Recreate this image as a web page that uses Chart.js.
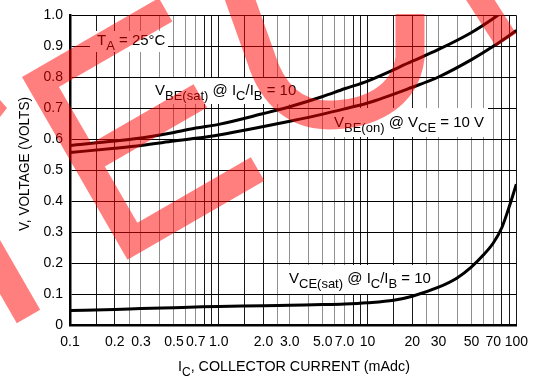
<!DOCTYPE html>
<html>
<head>
<meta charset="utf-8">
<title>Base-Emitter and Collector-Emitter Voltages vs Collector Current</title>
<script src="https://cdn.jsdelivr.net/npm/chart.js@4"></script>
<style>
  html, body { margin: 0; padding: 0; background: #fff; }
  #wrap { width: 537px; height: 378px; position: relative; }
</style>
</head>
<body>
<div id="wrap"><canvas id="c" width="537" height="378"></canvas></div>
<script>
// Collector current grid lines (mA) and the subset that carries labels
const currentGrid = [0.1, 0.15, 0.2, 0.25, 0.3, 0.4, 0.5, 0.6, 0.7, 0.8, 0.9,
                     1, 1.5, 2, 2.5, 3, 4, 5, 6, 7, 8, 9,
                     10, 15, 20, 25, 30, 40, 50, 60, 70, 80, 90, 100];
const currentTickValues = [0.1, 0.2, 0.3, 0.5, 0.7, 1, 2, 3, 5, 7, 10, 20, 30, 50, 70, 100];
const currentTickLabels = ['0.1', '0.2', '0.3', '0.5', '0.7', '1.0', '2.0', '3.0', '5.0', '7.0',
                           '10', '20', '30', '50', '70', '100'];

// Voltage axis ticks (volts)
const voltageTickValues = [0, 0.1, 0.2, 0.3, 0.4, 0.5, 0.6, 0.7, 0.8, 0.9, 1.0];
const voltageTickLabels = ['0', '0.1', '0.2', '0.3', '0.4', '0.5', '0.6', '0.7', '0.8', '0.9', '1.0'];

// Base-emitter curves, sampled at these collector currents (mA)
const icBase = [0.1, 0.2, 0.3, 0.5, 0.7, 1, 2, 3, 5, 7, 10, 20, 30, 50, 70, 100];
// VBE(sat) @ IC/IB = 10
const vbeSat = [0.580, 0.594, 0.604, 0.622, 0.636, 0.648, 0.683, 0.705, 0.738, 0.763,
                0.788, 0.852, 0.890, 0.945, 0.990, 1.045];
// VBE(on) @ VCE = 10 V
const vbeOn  = [0.557, 0.571, 0.580, 0.594, 0.603, 0.614, 0.641, 0.658, 0.681, 0.698,
                0.717, 0.768, 0.801, 0.857, 0.900, 0.951];

// VCE(sat) @ IC/IB = 10
const icSat  = [0.1, 0.2, 0.3, 0.5, 0.7, 1, 2, 3, 5, 7, 10, 15, 20, 30, 40, 50, 60, 70, 80, 90, 100];
const vceSat = [0.047, 0.050, 0.053, 0.056, 0.058, 0.060, 0.062, 0.064, 0.066, 0.068, 0.072,
                0.080, 0.093, 0.122, 0.152, 0.188, 0.226, 0.265, 0.315, 0.385, 0.455];

const FONT = '"Liberation Sans", Arial, Helvetica, sans-serif';

// Darker lines at 1, 1.5, 2, 8, 9 within each decade, lighter elsewhere
function gridShade(v) {
  if (v === undefined || v === null) return '#000';
  const m = v / Math.pow(10, Math.floor(Math.log10(v) + 1e-9));
  const dark = [1, 1.5, 2, 8, 9].some(d => Math.abs(m - d) < 1e-6);
  return dark ? '#1a1a1a' : '#8f8f8f';
}

// Draws text runs with subscripts, left to right, returns total width
function drawRich(ctx, x, y, parts, mainPx, subPx, drop) {
  let cx = x;
  parts.forEach(p => {
    ctx.font = (p[1] ? subPx : mainPx) + 'px ' + FONT;
    ctx.fillText(p[0], cx, p[1] ? y + drop : y);
    cx += ctx.measureText(p[0]).width;
  });
  return cx - x;
}

function richWidth(ctx, parts, mainPx, subPx) {
  let w = 0;
  parts.forEach(p => {
    ctx.font = (p[1] ? subPx : mainPx) + 'px ' + FONT;
    w += ctx.measureText(p[0]).width;
  });
  return w;
}

// Curve call-outs: white backing box, then text
const notes = [
  { box: [90, 31, 78, 21], x: 97, y: 45,
    parts: [['T', 0], ['A', 1], [' = 25\u00B0C', 0]] },
  { box: [150, 78, 151, 26], x: 155, y: 95,
    parts: [['V', 0], ['BE(sat)', 1], [' @ I', 0], ['C', 1], ['/I', 0], ['B', 1], [' = 10', 0]] },
  { box: [330, 108, 158, 29], x: 334, y: 127,
    parts: [['V', 0], ['BE(on)', 1], [' @ V', 0], ['CE', 1], [' = 10 V', 0]] },
  { box: [283, 265, 153, 29], x: 289, y: 283,
    parts: [['V', 0], ['CE(sat)', 1], [' @ I', 0], ['C', 1], ['/I', 0], ['B', 1], [' = 10', 0]] }
];

const overlay = {
  id: 'overlay',
  beforeDatasetsDraw(chart) {
    const ctx = chart.ctx;
    ctx.save();
    ctx.textBaseline = 'alphabetic';
    notes.forEach(n => {
      ctx.fillStyle = '#fff';
      ctx.fillRect(n.box[0], n.box[1], n.box[2], n.box[3]);
      ctx.fillStyle = '#000';
      drawRich(ctx, n.x, n.y, n.parts, 15, 13, 5);
    });
    ctx.restore();
  },
  afterDraw(chart) {
    const ctx = chart.ctx;
    ctx.save();
    ctx.fillStyle = '#000';
    ctx.textBaseline = 'alphabetic';

    // Horizontal axis title, slightly condensed
    const xParts = [['I', 0], ['C', 1], [', COLLECTOR CURRENT (mAdc)', 0]];
    const xw = richWidth(ctx, xParts, 15.5, 13);
    ctx.save();
    ctx.translate(178, 371);
    ctx.scale(232 / xw, 1);
    drawRich(ctx, 0, 0, xParts, 15.5, 13, 5);
    ctx.restore();

    // Vertical axis title
    ctx.save();
    ctx.translate(29, 164);
    ctx.rotate(-Math.PI / 2);
    ctx.font = '15.5px ' + FONT;
    const yt = 'V, VOLTAGE (VOLTS)';
    const yw = ctx.measureText(yt).width;
    ctx.scale(134 / yw, 1);
    ctx.textAlign = 'center';
    ctx.fillText(yt, 0, 0);
    ctx.restore();

    // Red translucent stamp lettering across the plot
    ctx.fillStyle = 'rgba(255,0,0,0.5)';
    ctx.strokeStyle = 'rgba(255,0,0,0.5)';
    ctx.lineCap = 'butt';
    ctx.lineJoin = 'miter';

    // letter "E", tilted 30 degrees
    const O = [22, 77], U = [0.866, -0.5], V = [0.5, 0.866], s = 27, H = 211;
    const P = (u, v) => [O[0] + u * U[0] + v * V[0], O[1] + u * U[1] + v * V[1]];
    const seg = (a, b) => { ctx.moveTo(a[0], a[1]); ctx.lineTo(b[0], b[1]); };
    ctx.beginPath();
    ctx.lineWidth = s;
    seg(P(s / 2, 0), P(s / 2, H));
    seg(P(0, s / 2), P(158, s / 2));
    seg(P(0, H / 2), P(145, H / 2));
    seg(P(0, H - s / 2), P(158, H - s / 2));
    ctx.stroke();

    // stroke at the left edge
    ctx.beginPath();
    ctx.lineWidth = 27;
    seg([28.5, 316.5], [-60, 163]);
    ctx.stroke();
    ctx.beginPath();
    ctx.moveTo(0, 100); ctx.lineTo(7, 108); ctx.lineTo(0, 117); ctx.closePath();
    ctx.fill();

    // rounded letter
    ctx.beginPath();
    ctx.lineWidth = 29;
    ctx.moveTo(236, -12);
    ctx.lineTo(261, 58);
    ctx.bezierCurveTo(273, 97, 298, 115, 328, 115);
    ctx.bezierCurveTo(368, 115, 405, 98, 410, 58);
    ctx.lineTo(410, 14);
    ctx.stroke();

    // stroke at the top right
    ctx.beginPath();
    ctx.lineWidth = 24;
    seg([474, -10], [506, 40]);
    ctx.stroke();

    ctx.restore();
  }
};

const pts = (xs, ys) => xs.map((x, i) => ({ x: x, y: ys[i] }));

new Chart(document.getElementById('c'), {
  type: 'line',
  data: {
    datasets: [
      { label: 'VBE(sat) @ IC/IB = 10', data: pts(icBase, vbeSat) },
      { label: 'VBE(on) @ VCE = 10 V', data: pts(icBase, vbeOn) },
      { label: 'VCE(sat) @ IC/IB = 10', data: pts(icSat, vceSat) }
    ]
  },
  options: {
    responsive: false,
    animation: false,
    devicePixelRatio: 1,
    layout: { padding: { top: 13, right: 20, left: 0, bottom: 0 } },
    plugins: { legend: { display: false }, tooltip: { enabled: false } },
    elements: {
      point: { radius: 0 },
      line: { borderWidth: 3, borderColor: '#000', cubicInterpolationMode: 'monotone', fill: false }
    },
    scales: {
      x: {
        type: 'logarithmic',
        min: 0.1,
        max: 100,
        afterBuildTicks: sc => { sc.ticks = currentGrid.map(v => ({ value: v })); },
        afterFit: sc => { sc.height = 53; },
        ticks: {
          autoSkip: false, maxRotation: 0, minRotation: 0, padding: 9, color: '#000',
          font: { family: FONT, size: 14 },
          callback: v => {
            const i = currentTickValues.findIndex(t => Math.abs(t - v) < 1e-9);
            return i < 0 ? '' : currentTickLabels[i];
          }
        },
        grid: { color: c => gridShade(c.tick && c.tick.value), lineWidth: 1, drawTicks: false },
        border: { color: '#000', width: 2.5 }
      },
      y: {
        min: 0,
        max: 1,
        afterBuildTicks: sc => { sc.ticks = voltageTickValues.map(v => ({ value: v })); },
        afterFit: sc => { sc.width = 70; },
        ticks: {
          padding: 7, color: '#000',
          font: { family: FONT, size: 14 },
          callback: v => {
            const i = voltageTickValues.findIndex(t => Math.abs(t - v) < 1e-9);
            return i < 0 ? '' : voltageTickLabels[i];
          }
        },
        grid: { color: '#000', lineWidth: 1, drawTicks: false },
        border: { color: '#000', width: 2.5 }
      }
    }
  },
  plugins: [overlay]
});
</script>
</body>
</html>
